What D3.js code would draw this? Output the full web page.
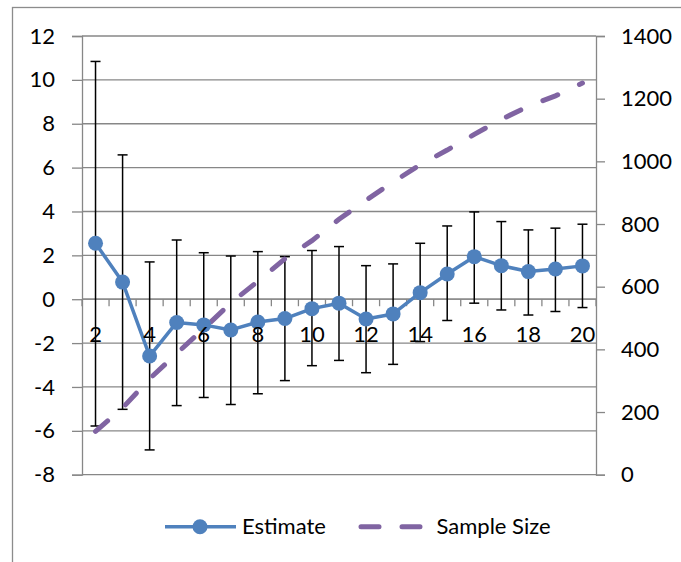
<!DOCTYPE html>
<html><head><meta charset="utf-8">
<script src="https://cdn.jsdelivr.net/npm/d3@7"></script>
<style>
html,body{margin:0;padding:0;background:#fff;}
svg{display:block;font-family:Lato, "Open Sans", sans-serif;}
</style></head>
<body><svg id="c" width="681" height="562"></svg>
<script>
const categories = ["2","3","4","5","6","7","8","9","10","11","12","13","14","15","16","17","18","19","20"];
const estimate = [2.55,0.78,-2.59,-1.06,-1.17,-1.40,-1.04,-0.88,-0.43,-0.18,-0.90,-0.67,0.30,1.15,1.94,1.53,1.26,1.38,1.52];
const upper = [10.84,6.58,1.70,2.70,2.12,1.97,2.17,1.94,2.22,2.40,1.53,1.61,2.55,3.34,3.98,3.54,3.16,3.24,3.42];
const lower = [-5.78,-5.02,-6.87,-4.85,-4.48,-4.80,-4.31,-3.71,-3.03,-2.79,-3.35,-2.97,-1.93,-0.97,-0.18,-0.49,-0.72,-0.56,-0.38];
const sampleSize = [138,213,306,387,466,548,617,689,747,815,876,934,989,1036,1086,1134,1176,1209,1250];
const leftTicks = [-8,-6,-4,-2,0,2,4,6,8,10,12];
const rightTicks = [0,200,400,600,800,1000,1200,1400];
const xLabels = ["2","4","6","8","10","12","14","16","18","20"];
const seriesNames = ["Estimate","Sample Size"];

const svg = d3.select("#c");
const L=82, R=596, T=36, B=474.7;
const FS = 22;
const grid = "#878787";
const fmt = d => String(d);

svg.append("rect").attr("x",12.5).attr("y",7.5).attr("width",720).attr("height",620)
  .attr("fill","none").attr("stroke","#8c8c8c").attr("stroke-width",1.3);

const x = d3.scaleBand().domain(categories).range([L,R]);
const yL = d3.scaleLinear().domain([-8,12]).range([B,T]);
const yR = d3.scaleLinear().domain([0,1400]).range([B,T]);
const cx = c => x(c) + x.bandwidth()/2;

// gridlines
svg.append("g").selectAll("line").data(leftTicks).join("line")
  .attr("x1",L).attr("x2",R).attr("y1",d=>yL(d)).attr("y2",d=>yL(d))
  .attr("stroke",grid).attr("stroke-width",1.3);

// left axis
const gl = svg.append("g").attr("transform",`translate(${L},0)`)
  .call(d3.axisLeft(yL).tickValues(leftTicks).tickSize(10).tickPadding(17).tickFormat(fmt));
gl.select(".domain").attr("stroke",grid).attr("stroke-width",1.3);
gl.selectAll(".tick line").attr("stroke",grid).attr("stroke-width",1.3);
gl.selectAll("text").attr("font-size",FS).attr("font-family","Lato").attr("fill","#000");

// right axis
const gr = svg.append("g").attr("transform",`translate(${R},0)`)
  .call(d3.axisRight(yR).tickValues(rightTicks).tickSize(9).tickPadding(16).tickFormat(fmt));
gr.select(".domain").attr("stroke",grid).attr("stroke-width",1.3);
gr.selectAll(".tick line").attr("stroke",grid).attr("stroke-width",1.3);
gr.selectAll("text").attr("font-size",FS).attr("font-family","Lato").attr("fill","#000");

// x axis at zero: boundary ticks
const y0 = yL(0);
const bounds = categories.map(c=>x(c)).concat([R]);
svg.append("g").selectAll("line").data(bounds).join("line")
  .attr("x1",d=>d).attr("x2",d=>d).attr("y1",y0).attr("y2",y0+7)
  .attr("stroke",grid).attr("stroke-width",1.3);
svg.append("line").attr("x1",L).attr("x2",R).attr("y1",y0).attr("y2",y0)
  .attr("stroke",grid).attr("stroke-width",1.3);

// error bars
const eb = svg.append("g").attr("stroke","#000").attr("stroke-width",1.5);
categories.forEach((c,i)=>{
  const xx = cx(c);
  eb.append("line").attr("x1",xx).attr("x2",xx).attr("y1",yL(upper[i])).attr("y2",yL(lower[i]));
  eb.append("line").attr("x1",xx-5).attr("x2",xx+5).attr("y1",yL(upper[i])).attr("y2",yL(upper[i]));
  eb.append("line").attr("x1",xx-5).attr("x2",xx+5).attr("y1",yL(lower[i])).attr("y2",yL(lower[i]));
});

// sample size dashed
const lineR = d3.line().x((d,i)=>cx(categories[i])).y(d=>yR(d));
svg.append("path").datum(sampleSize).attr("d",lineR).attr("fill","none")
  .attr("stroke","#8064A2").attr("stroke-width",5).attr("stroke-linecap","round")
  .attr("stroke-dasharray","16,24");

// estimate
const lineL = d3.line().x((d,i)=>cx(categories[i])).y(d=>yL(d));
svg.append("path").datum(estimate).attr("d",lineL).attr("fill","none")
  .attr("stroke","#4F81BD").attr("stroke-width",3.5).attr("stroke-linejoin","round");
svg.append("g").selectAll("circle").data(estimate).join("circle")
  .attr("cx",(d,i)=>cx(categories[i])).attr("cy",d=>yL(d)).attr("r",7.5).attr("fill","#4F81BD");

// x labels
const gx = svg.append("g").attr("transform",`translate(0,${y0})`)
  .call(d3.axisBottom(x).tickValues(xLabels).tickSize(0).tickPadding(27));
gx.select(".domain").remove();
gx.selectAll("text").attr("font-size",FS).attr("font-family","Lato").attr("fill","#000");

// legend
const ly = 526.7;
svg.append("line").attr("x1",165).attr("x2",236).attr("y1",ly).attr("y2",ly)
  .attr("stroke","#4F81BD").attr("stroke-width",3.5);
svg.append("circle").attr("cx",200).attr("cy",ly).attr("r",7.5).attr("fill","#4F81BD");
svg.append("text").attr("x",242).attr("y",ly).attr("dy","0.35em").attr("font-size",FS)
  .attr("font-family","Lato").text(seriesNames[0]);
svg.append("line").attr("x1",361).attr("x2",422).attr("y1",ly).attr("y2",ly)
  .attr("stroke","#8064A2").attr("stroke-width",5).attr("stroke-linecap","round")
  .attr("stroke-dasharray","18,23");
svg.append("text").attr("x",436.5).attr("y",ly).attr("dy","0.35em").attr("font-size",FS)
  .attr("font-family","Lato").text(seriesNames[1]);
</script></body></html>
